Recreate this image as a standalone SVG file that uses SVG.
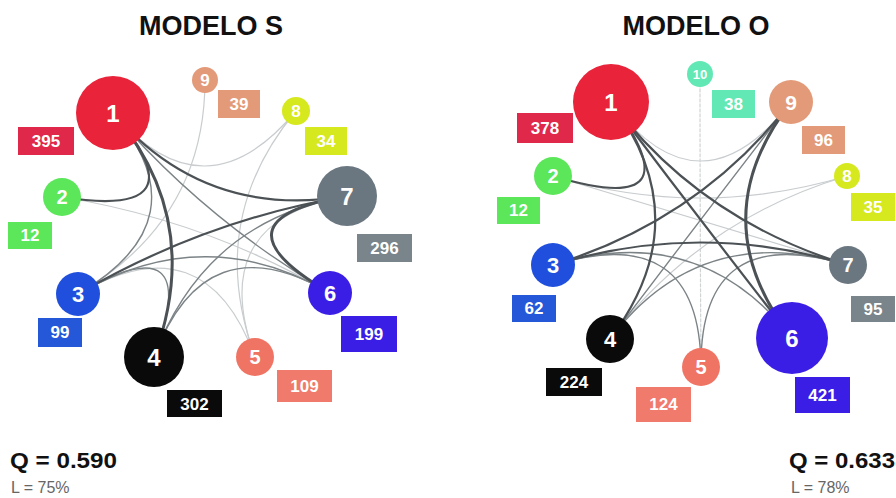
<svg xmlns="http://www.w3.org/2000/svg" width="896" height="498" viewBox="0 0 896 498">
<style>
.t{font-family:"Liberation Sans",Arial,sans-serif;font-weight:bold;fill:#111;text-anchor:middle}
.n{font-family:"Liberation Sans",Arial,sans-serif;font-weight:bold;fill:#fff;text-anchor:middle}
.lb{font-family:"Liberation Sans",Arial,sans-serif;font-weight:bold;fill:#fff;text-anchor:middle;font-size:17px}
.q{font-family:"Liberation Sans",Arial,sans-serif;font-weight:bold;fill:#111;font-size:22px}
.l{font-family:"Liberation Sans",Arial,sans-serif;fill:#666;font-size:16px}
.e{fill:none;stroke-linecap:round}
.d{stroke:#4b5154;stroke-width:2.2}
.dk{stroke:#4b5154;stroke-width:3}
.m{stroke:#7c8386;stroke-width:1.4}
.li{stroke:#c9cdcf;stroke-width:1.2}
.ds{stroke:#cfd3d4;stroke-width:1.2;stroke-dasharray:3 2}
</style>
<rect width="896" height="498" fill="#fff"/>
<text class="t" x="211" y="35" font-size="27">MODELO S</text>
<text class="t" x="696" y="35" font-size="27">MODELO O</text>

<g id="edges-s">
<path class="e li" d="M296,111 Q205,220 113,113"/>
<path class="e li" d="M296,111 Q205,220 255,357"/>
<path class="e li" d="M205,80 Q205,220 78,294"/>
<path class="e li" d="M255,357 Q205,220 78,294"/>
<path class="e li" d="M255,357 Q205,220 347,196"/>
<path class="e li" d="M62,197 Q205,220 330,293"/>
<path class="e m" d="M78,294 Q205,220 154,357"/>
<path class="e m" d="M78,294 Q205,220 330,293"/>
<path class="e m" d="M113,113 Q205,220 78,294"/>
<path class="e m" d="M347,196 Q205,220 154,357"/>
<path class="e m" d="M154,357 Q205,220 330,293"/>
<path class="e m" d="M113,113 Q205,220 330,293"/>
<path class="e d" d="M347,196 Q205,220 78,294"/>
<path class="e d" d="M62,197 Q205,220 113,113"/>
<path class="e d" d="M113,113 Q205,220 347,196"/>
<path class="e dk" d="M113,113 Q205,220 154,357"/>
<path class="e dk" d="M347,196 Q205,220 330,293"/>
</g>

<g id="edges-o">
<path class="e li" d="M611,102 Q700,220 791,102"/>
<path class="e ds" d="M700,74 Q700,220 701,367"/>
<path class="e li" d="M847,176 Q700,220 553,176"/>
<path class="e li" d="M847,176 Q700,220 610,339"/>
<path class="e li" d="M553,176 Q700,220 848,265"/>
<path class="e m" d="M701,367 Q700,220 553,265"/>
<path class="e m" d="M701,367 Q700,220 848,265"/>
<path class="e m" d="M791,102 Q700,220 610,339"/>
<path class="e m" d="M610,339 Q700,220 848,265"/>
<path class="e m" d="M553,265 Q700,220 792,338"/>
<path class="e d" d="M611,102 Q700,220 848,265"/>
<path class="e d" d="M553,265 Q700,220 848,265"/>
<path class="e d" d="M791,102 Q700,220 553,265"/>
<path class="e d" d="M553,176 Q700,220 611,102"/>
<path class="e d" d="M611,102 Q700,220 610,339"/>
<path class="e d" d="M611,102 Q700,220 792,338"/>
<path class="e dk" d="M791,102 Q700,220 792,338"/>
</g>

<g id="s1"><circle cx="113" cy="113" r="37" fill="#e8233a"/><text class="n" x="113" y="122" font-size="24">1</text><rect x="18" y="127" width="56" height="28" fill="#e0284a"/><text class="lb" x="46" y="147">395</text></g>
<g id="s9"><circle cx="205" cy="80" r="13" fill="#e39a78"/><text class="n" x="205" y="86" font-size="17">9</text><rect x="218" y="90" width="42" height="28" fill="#e39a78"/><text class="lb" x="239" y="110">39</text></g>
<g id="s8"><circle cx="296" cy="111" r="14" fill="#d6e81e"/><text class="n" x="296" y="117" font-size="17">8</text><rect x="305" y="127" width="42" height="28" fill="#d6e81e"/><text class="lb" x="326" y="147">34</text></g>
<g id="s7"><circle cx="347" cy="196" r="30" fill="#6b7780"/><text class="n" x="347" y="205" font-size="24">7</text><rect x="357" y="234" width="55" height="28" fill="#7a848b"/><text class="lb" x="384.5" y="254">296</text></g>
<g id="s2"><circle cx="62" cy="197" r="19" fill="#5ce65a"/><text class="n" x="62" y="204" font-size="20">2</text><rect x="8" y="222" width="44" height="27" fill="#5ce65a"/><text class="lb" x="30" y="241">12</text></g>
<g id="s3"><circle cx="78" cy="294" r="22" fill="#1f4fdc"/><text class="n" x="78" y="302" font-size="22">3</text><rect x="38" y="318" width="44" height="29" fill="#2458d8"/><text class="lb" x="60" y="338">99</text></g>
<g id="s4"><circle cx="154" cy="357" r="30" fill="#0a0a0a"/><text class="n" x="154" y="366" font-size="24">4</text><rect x="167" y="390" width="55" height="27" fill="#0a0a0a"/><text class="lb" x="194.5" y="410">302</text></g>
<g id="s5"><circle cx="255" cy="357" r="19" fill="#f07464"/><text class="n" x="255" y="364" font-size="20">5</text><rect x="277" y="370" width="55" height="32" fill="#f07a6c"/><text class="lb" x="304.5" y="392">109</text></g>
<g id="s6"><circle cx="330" cy="293" r="22" fill="#3b1ee6"/><text class="n" x="330" y="301" font-size="22">6</text><rect x="341" y="316" width="56" height="36" fill="#3b1ee6"/><text class="lb" x="369" y="340">199</text></g>

<g id="o1"><circle cx="611" cy="102" r="38" fill="#e8233a"/><text class="n" x="611" y="111" font-size="24">1</text><rect x="517" y="113" width="56" height="30" fill="#e0284a"/><text class="lb" x="545" y="134">378</text></g>
<g id="o10"><circle cx="700" cy="74" r="13" fill="#62e8b4"/><text class="n" x="700" y="79" font-size="13">10</text><rect x="712" y="90" width="43" height="28" fill="#62e8b4"/><text class="lb" x="733.5" y="110">38</text></g>
<g id="o9"><circle cx="791" cy="102" r="22" fill="#e39a78"/><text class="n" x="791" y="110" font-size="21">9</text><rect x="802" y="126" width="43" height="28" fill="#e39a78"/><text class="lb" x="823.5" y="146">96</text></g>
<g id="o2"><circle cx="553" cy="176" r="19" fill="#5ce65a"/><text class="n" x="553" y="183" font-size="20">2</text><rect x="497" y="197" width="43" height="27" fill="#5ce65a"/><text class="lb" x="518.5" y="216">12</text></g>
<g id="o8"><circle cx="847" cy="176" r="13" fill="#d6e81e"/><text class="n" x="847" y="182" font-size="17">8</text><rect x="851" y="193" width="44" height="28" fill="#d6e81e"/><text class="lb" x="873" y="213">35</text></g>
<g id="o3"><circle cx="553" cy="265" r="22" fill="#1f4fdc"/><text class="n" x="553" y="273" font-size="22">3</text><rect x="512" y="295" width="44" height="27" fill="#2458d8"/><text class="lb" x="534" y="314">62</text></g>
<g id="o7"><circle cx="848" cy="265" r="19" fill="#6b7780"/><text class="n" x="848" y="272" font-size="20">7</text><rect x="851" y="296" width="44" height="26" fill="#7a848b"/><text class="lb" x="873" y="315">95</text></g>
<g id="o4"><circle cx="610" cy="339" r="24" fill="#0a0a0a"/><text class="n" x="610" y="347" font-size="22">4</text><rect x="546" y="368" width="56" height="28" fill="#0a0a0a"/><text class="lb" x="574" y="388">224</text></g>
<g id="o5"><circle cx="701" cy="367" r="19" fill="#f07464"/><text class="n" x="701" y="374" font-size="20">5</text><rect x="636" y="387" width="55" height="35" fill="#f07a6c"/><text class="lb" x="663.5" y="410">124</text></g>
<g id="o6"><circle cx="792" cy="338" r="36" fill="#3b1ee6"/><text class="n" x="792" y="347" font-size="24">6</text><rect x="795" y="377" width="55" height="36" fill="#3b1ee6"/><text class="lb" x="822.5" y="401">421</text></g>

<text class="q" x="10" y="468" textLength="107" lengthAdjust="spacingAndGlyphs">Q = 0.590</text>
<text class="l" x="11" y="493">L = 75%</text>
<text class="q" x="789" y="468" textLength="106" lengthAdjust="spacingAndGlyphs">Q = 0.633</text>
<text class="l" x="791" y="493">L = 78%</text>
</svg>
